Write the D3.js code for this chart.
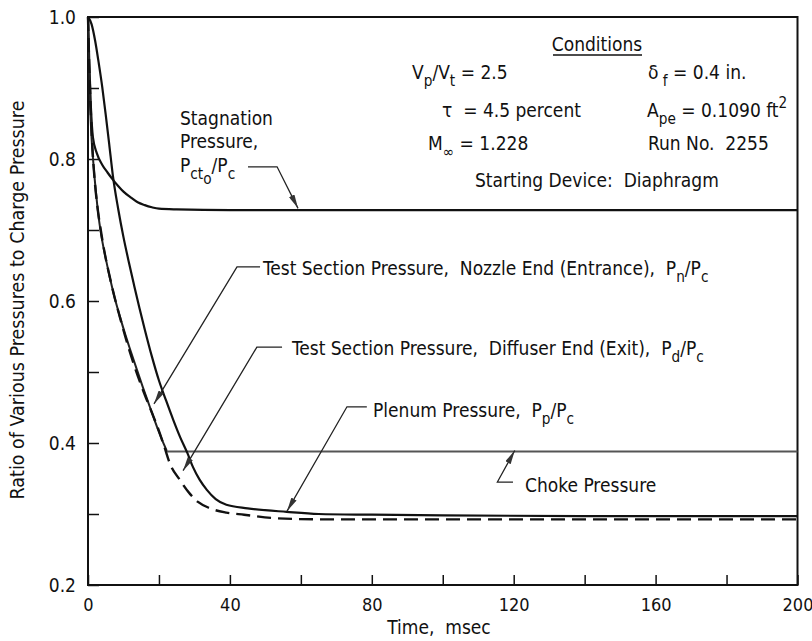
<!DOCTYPE html>
<html>
<head>
<meta charset="utf-8">
<script src="https://cdn.jsdelivr.net/npm/d3@7"></script>
<style>
  body { margin: 0; background: #fff; }
  text { font-family: "Liberation Sans Narrow", "DejaVu Sans Condensed", "Arial Narrow", sans-serif; fill: #111; white-space: pre; }
</style>
</head>
<body>
<svg id="chart" width="812" height="641"></svg>
<script>
// time in msec, ratio of pressure to charge pressure
const xTickLabels = [0, 40, 80, 120, 160, 200]
const yTickLabels = [0.2, 0.4, 0.6, 0.8, 1.0]

const stagnation = [[0,1.0],[0.4,0.93],[0.8,0.875],[1.4,0.83],[2.5,0.808],[4,0.792],[5.5,0.781],[7,0.771],
  [8.5,0.762],[10,0.754],[12,0.746],[14,0.739],[16,0.735],[18,0.732],[20,0.73],[25,0.729],[40,0.728],[200,0.728]]

const plenum = [[0,1.0],[1,0.99],[2,0.967],[3,0.936],[4,0.902],[5,0.862],[6,0.82],[7,0.777],[8.5,0.73],
  [10,0.69],[11.5,0.655],[13,0.622],[14.5,0.59],[16,0.56],[18,0.522],[20,0.488],[22,0.46],[24,0.433],
  [26,0.408],[28,0.386],[29.6,0.366],[31.5,0.348],[33.5,0.334],[36,0.321],[39,0.313],[45,0.308],
  [56,0.303],[65,0.3],[80,0.299],[100,0.298],[140,0.297],[200,0.297]]

const nozzleEnd = [[0,1.0],[0.3,0.93],[0.6,0.875],[1,0.83],[1.5,0.795],[2.2,0.755],[3,0.718],[4,0.685],
  [5,0.66],[6.2,0.632],[7.5,0.605],[9,0.578],[10.5,0.553],[12,0.53],[13.8,0.503],[15.5,0.478],
  [17.5,0.45],[19.5,0.422],[21,0.403],[22.2,0.389]]

const diffuserEnd = [[0,1.0],[0.3,0.94],[0.7,0.88],[1.2,0.82],[1.8,0.775],[2.6,0.735],[3.6,0.7],[4.8,0.665],
  [6,0.637],[7.5,0.605],[9,0.577],[10.5,0.55],[12,0.525],[14,0.495],[16,0.468],[18,0.443],[20,0.417],
  [21.5,0.395],[23.1,0.371],[25.9,0.348],[28.8,0.328],[31,0.317],[34.4,0.308],[39,0.302],[44,0.299],
  [53,0.294],[65,0.2925],[100,0.2925],[200,0.2925]]

const choke = [[22.2,0.388],[200,0.388]]

const svg = d3.select('#chart')
const x = d3.scaleLinear().domain([0, 200]).range([88, 797.5])
const y = d3.scaleLinear().domain([0.2, 1.0]).range([585, 17])

// arrowhead
svg.append('defs').append('marker')
    .attr('id', 'arrow')
    .attr('viewBox', '0 0 14 6')
    .attr('refX', 14).attr('refY', 3)
    .attr('markerWidth', 14).attr('markerHeight', 6)
    .attr('markerUnits', 'userSpaceOnUse')
    .attr('orient', 'auto')
  .append('path')
    .attr('d', 'M0,0 L14,3 L0,6 Z')
    .attr('fill', '#333')

// minor ticks, pointing inward
svg.append('g')
    .attr('transform', 'translate(' + x(0) + ',0)')
    .call(d3.axisLeft(y).tickValues(d3.range(0.2, 1.01, 0.1)).tickSize(-11).tickFormat(''))
    .call(g => g.select('.domain').remove())
    .selectAll('line').attr('stroke', '#111').attr('stroke-width', 1.5)

svg.append('g')
    .attr('transform', 'translate(0,' + y(0.2) + ')')
    .call(d3.axisBottom(x).tickValues(d3.range(0, 201, 20)).tickSize(-10).tickFormat(''))
    .call(g => g.select('.domain').remove())
    .selectAll('line').attr('stroke', '#111').attr('stroke-width', 1.5)

// tick labels
svg.append('g')
    .attr('transform', 'translate(' + x(0) + ',0)')
    .call(d3.axisLeft(y).tickValues(yTickLabels).tickSize(0).tickPadding(12).tickFormat(d3.format('.1f')))
    .call(g => g.select('.domain').remove())
    .selectAll('text').attr('font-size', 19).attr('fill', '#111')

svg.append('g')
    .attr('transform', 'translate(0,' + y(0.2) + ')')
    .call(d3.axisBottom(x).tickValues(xTickLabels).tickSize(0).tickPadding(13))
    .call(g => g.select('.domain').remove())
    .selectAll('text').attr('font-size', 18).attr('fill', '#111')

// frame
svg.append('rect')
    .attr('x', x(0)).attr('y', y(1.0))
    .attr('width', x(200) - x(0)).attr('height', y(0.2) - y(1.0))
    .attr('fill', 'none').attr('stroke', '#111').attr('stroke-width', 2)

// axis titles
svg.append('text')
    .attr('x', 439).attr('y', 634)
    .attr('text-anchor', 'middle').attr('font-size', 19)
    .text('Time,  msec')

svg.append('text')
    .attr('transform', 'translate(24,' + 300 + ') rotate(-90)')
    .attr('text-anchor', 'middle').attr('font-size', 19.5)
    .text('Ratio of Various Pressures to Charge Pressure')

// curves
const line = d3.line()
    .x(d => x(d[0]))
    .y(d => y(d[1]))
    .curve(d3.curveMonotoneX)

function drawCurve(data, width, color, dash) {
    svg.append('path')
        .datum(data)
        .attr('fill', 'none')
        .attr('stroke', color)
        .attr('stroke-width', width)
        .attr('stroke-dasharray', dash || null)
        .attr('d', line)
}

drawCurve(choke, 2, '#555')
drawCurve(stagnation, 2.2, '#111')
drawCurve(plenum, 2.2, '#111')
drawCurve(nozzleEnd, 2, '#222')
drawCurve(diffuserEnd, 2.4, '#111', '14,7')

// text with sub / superscripts: level 1 = sub, 2 = sub-sub, -1 = super
function richText(px, py, parts, size) {
    const t = svg.append('text').attr('x', px).attr('y', py).attr('font-size', size)
    let cur = 0
    parts.forEach(p => {
        const lvl = p[1] || 0
        const off = lvl === 0 ? 0 : (lvl === -1 ? -0.45 * size : (lvl === 1 ? 0.38 * size : 0.62 * size))
        t.append('tspan')
            .attr('dy', off - cur)
            .attr('font-size', lvl === 0 ? size : size * 0.8)
            .text(p[0])
        cur = off
    })
    return t
}

// leader lines (in data coordinates) ending with arrowheads on the curves
const leaders = [
    [[45.1, 0.789], [53.3, 0.789], [59.2, 0.7305]],
    [[48.5, 0.648], [42.0, 0.648], [18.6, 0.455]],
    [[54.7, 0.535], [47.6, 0.535], [26.8, 0.361]],
    [[78.6, 0.451], [73.0, 0.451], [56.1, 0.304]],
    [[119.8, 0.345], [115.4, 0.345], [120.3, 0.3895]]
]
leaders.forEach(pts => {
    svg.append('path')
        .attr('d', d3.line().x(d => x(d[0])).y(d => y(d[1]))(pts))
        .attr('fill', 'none')
        .attr('stroke', '#222')
        .attr('stroke-width', 1.3)
        .attr('marker-end', 'url(#arrow)')
})

const fs = 19
richText(180, 125, [['Stagnation']], fs)
richText(180, 148, [['Pressure,']], fs)
richText(180, 172, [['P'], ['ct', 1], ['o', 2], ['/P', 0], ['c', 1]], fs)

richText(263, 275, [['Test Section Pressure,  Nozzle End (Entrance),  P'], ['n', 1], ['/P'], ['c', 1]], fs)
richText(292, 355, [['Test Section Pressure,  Diffuser End (Exit),  P'], ['d', 1], ['/P'], ['c', 1]], fs)
richText(373, 417, [['Plenum Pressure,  P'], ['p', 1], ['/P'], ['c', 1]], fs)
richText(525, 492, [['Choke Pressure']], fs)

// conditions block
svg.append('text').attr('x', 597).attr('y', 51).attr('text-anchor', 'middle')
    .attr('font-size', fs).text('Conditions')
svg.append('line').attr('x1', 553).attr('x2', 642).attr('y1', 55).attr('y2', 55)
    .attr('stroke', '#111').attr('stroke-width', 1.5)

richText(412, 79, [['V'], ['p', 1], ['/V'], ['t', 1], [' = 2.5']], fs)
richText(648, 79, [['δ'], [' f', 1], [' = 0.4 in.']], fs)
richText(442, 117, [['τ  = 4.5 percent']], fs)
richText(647, 117, [['A'], ['pe', 1], [' = 0.1090 ft'], ['2', -1]], fs)
richText(428, 150, [['M'], ['∞', 1], [' = 1.228']], fs)
richText(648, 150, [['Run No.  2255']], fs)
richText(475, 187, [['Starting Device:  Diaphragm']], fs)
</script>
</body>
</html>
